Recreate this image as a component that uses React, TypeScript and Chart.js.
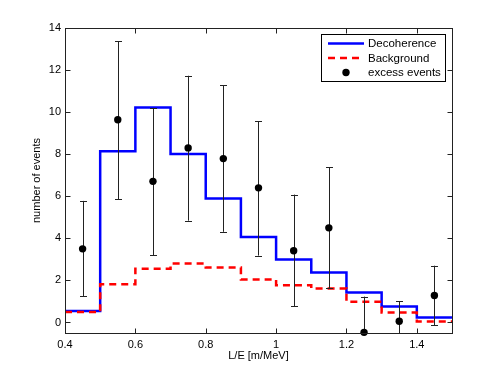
import { useEffect, useRef } from 'react';
import { Chart, registerables } from 'chart.js';

Chart.register(...registerables);

// ---- data ----
const binEdges = [0.4, 0.5, 0.6, 0.7, 0.8, 0.9, 1.0, 1.1, 1.2, 1.3, 1.4, 1.5];
const decoherence = [0.55, 8.14, 10.22, 8.01, 5.89, 4.06, 3.0, 2.38, 1.42, 0.76, 0.24];
const background = [0.5, 1.82, 2.56, 2.8, 2.61, 2.04, 1.77, 1.61, 0.98, 0.47, 0.05];
const binCenters = [0.45, 0.55, 0.65, 0.75, 0.85, 0.95, 1.05, 1.15, 1.25, 1.35, 1.45];
const excess = [3.5, 9.64, 6.71, 8.3, 7.79, 6.4, 3.41, 4.5, -0.47, 0.06, 1.28];
const errLow = [1.26, 5.85, 3.2, 4.84, 4.31, 3.18, 0.76, 1.64, -2.17, -0.9, -0.13];
const errHigh = [5.78, 13.38, 10.19, 11.73, 11.27, 9.56, 6.08, 7.38, 1.23, 1.02, 2.7];
const xTicks = [0.4, 0.6, 0.8, 1.0, 1.2, 1.4];
const yTicks = [0, 2, 4, 6, 8, 10, 12, 14];
const legendLabels = ['Decoherence', 'Background', 'excess events'];

const FONT = '"Liberation Sans", Arial, Helvetica, sans-serif';

function stepData(values: number[]) {
  const pts = values.map((v, i) => ({ x: binEdges[i], y: v }));
  pts.push({ x: binEdges[binEdges.length - 1], y: values[values.length - 1] });
  return pts;
}

const framePlugin = {
  id: 'frame',
  beforeDatasetDraw(chart: any, args: any) {
    if (args.index !== 0) return;
    const { ctx, chartArea: a } = chart;
    const xs = chart.scales.x;
    const ys = chart.scales.y;
    ctx.save();
    ctx.beginPath();
    ctx.rect(a.left, a.top, a.right - a.left, a.bottom - a.top);
    ctx.clip();
    ctx.strokeStyle = '#222';
    ctx.lineWidth = 1;
    const cap = 3.5;
    binCenters.forEach((c, i) => {
      const px = Math.round(xs.getPixelForValue(c)) + 0.5;
      const lo = ys.getPixelForValue(errLow[i]);
      const hi = ys.getPixelForValue(errHigh[i]);
      ctx.beginPath();
      ctx.moveTo(px, lo);
      ctx.lineTo(px, hi);
      ctx.moveTo(px - cap, Math.round(lo) + 0.5);
      ctx.lineTo(px + cap, Math.round(lo) + 0.5);
      ctx.moveTo(px - cap, Math.round(hi) + 0.5);
      ctx.lineTo(px + cap, Math.round(hi) + 0.5);
      ctx.stroke();
    });
    ctx.restore();
  },
  afterDraw(chart: any) {
    const { ctx, chartArea: a } = chart;
    const xs = chart.scales.x;
    const ys = chart.scales.y;
    const L = Math.round(a.left) + 0.5;
    const R = Math.round(a.right) + 0.5;
    const T = Math.round(a.top) + 0.5;
    const B = Math.round(a.bottom) + 0.5;
    ctx.save();
    ctx.strokeStyle = '#222';
    ctx.lineWidth = 1;
    ctx.strokeRect(L, T, R - L, B - T);
    const tl = 5;
    ctx.beginPath();
    xTicks.forEach((t) => {
      const px = Math.round(xs.getPixelForValue(t)) + 0.5;
      ctx.moveTo(px, B);
      ctx.lineTo(px, B - tl);
      ctx.moveTo(px, T);
      ctx.lineTo(px, T + tl);
    });
    yTicks.forEach((t) => {
      const py = Math.round(ys.getPixelForValue(t)) + 0.5;
      ctx.moveTo(L, py);
      ctx.lineTo(L + tl, py);
      ctx.moveTo(R, py);
      ctx.lineTo(R - tl, py);
    });
    ctx.stroke();

    // axis titles
    ctx.fillStyle = '#000';
    ctx.font = `11px ${FONT}`;
    ctx.textAlign = 'center';
    ctx.textBaseline = 'middle';
    ctx.fillText('L/E [m/MeV]', (a.left + a.right) / 2, 356);
    ctx.save();
    ctx.translate(37, (a.top + a.bottom) / 2);
    ctx.rotate(-Math.PI / 2);
    ctx.fillText('number of events', 0, 0);
    ctx.restore();

    // legend
    const bx = 321.5, by = 34.5, bw = 124, bh = 47;
    ctx.fillStyle = '#fff';
    ctx.fillRect(bx, by, bw, bh);
    ctx.strokeStyle = '#000';
    ctx.lineWidth = 1;
    ctx.strokeRect(bx, by, bw, bh);
    const rows = [43.5, 58, 72.5];
    const x0 = 328, x1 = 364;
    // decoherence
    ctx.strokeStyle = '#0000ff';
    ctx.lineWidth = 2.5;
    ctx.setLineDash([]);
    ctx.beginPath();
    ctx.moveTo(x0, rows[0]);
    ctx.lineTo(x1, rows[0]);
    ctx.stroke();
    // background
    ctx.strokeStyle = '#ff0000';
    ctx.setLineDash([7, 5]);
    ctx.beginPath();
    ctx.moveTo(x0, rows[1]);
    ctx.lineTo(x1, rows[1]);
    ctx.stroke();
    ctx.setLineDash([]);
    // marker
    ctx.fillStyle = '#000';
    ctx.beginPath();
    ctx.arc((x0 + x1) / 2, rows[2], 3.7, 0, Math.PI * 2);
    ctx.fill();
    ctx.font = `11.5px ${FONT}`;
    ctx.textAlign = 'left';
    ctx.textBaseline = 'middle';
    legendLabels.forEach((t, i) => ctx.fillText(t, 368, rows[i] + 0.5));
    ctx.restore();
  },
};

export default function App() {
  const ref = useRef<HTMLCanvasElement | null>(null);
  useEffect(() => {
    if (!ref.current) return;
    const chart = new Chart(ref.current, {
      type: 'scatter',
      data: {
        datasets: [
          {
            label: legendLabels[2],
            data: binCenters.map((c, i) => ({ x: c, y: excess[i] })),
            showLine: false,
            pointRadius: 3.7,
            pointBackgroundColor: '#000',
            pointBorderColor: '#000',
            pointBorderWidth: 0,
            clip: false,
          } as any,
          {
            label: legendLabels[1],
            data: stepData(background),
            showLine: true,
            stepped: true,
            borderColor: '#ff0000',
            borderWidth: 2.5,
            borderDash: [7, 5],
            pointRadius: 0,
            fill: false,
          },
          {
            label: legendLabels[0],
            data: stepData(decoherence),
            showLine: true,
            stepped: true,
            borderColor: '#0000ff',
            borderWidth: 2.5,
            pointRadius: 0,
            fill: false,
          },
        ],
      },
      options: {
        animation: false,
        responsive: false,
        maintainAspectRatio: false,
        layout: { padding: { left: 0, top: 28, right: 46, bottom: 0 } },
        plugins: { legend: { display: false }, tooltip: { enabled: false } },
        scales: {
          x: {
            type: 'linear',
            min: 0.4,
            max: 1.5,
            grid: { display: false, drawTicks: false },
            border: { display: false },
            afterBuildTicks: (s: any) => {
              s.ticks = xTicks.map((v) => ({ value: v }));
            },
            afterFit: (s: any) => {
              s.height = 42;
            },
            ticks: {
              color: '#000',
              padding: 5,
              font: { family: FONT, size: 11 },
              callback: (v: any) => String(Number(v)),
            },
          },
          y: {
            type: 'linear',
            min: -0.5,
            max: 14,
            grid: { display: false, drawTicks: false },
            border: { display: false },
            afterBuildTicks: (s: any) => {
              s.ticks = yTicks.map((v) => ({ value: v }));
            },
            afterFit: (s: any) => {
              s.width = 65;
            },
            ticks: {
              color: '#000',
              padding: 4,
              font: { family: FONT, size: 11 },
              callback: (v: any) => String(Number(v)),
            },
          },
        },
      },
      plugins: [framePlugin],
    });
    return () => chart.destroy();
  }, []);
  return (
    <div style={{ position: 'absolute', left: 0, top: 0, width: 498, height: 375, background: '#fff' }}>
      <canvas ref={ref} width={498} height={375} style={{ width: 498, height: 375, display: 'block' }} />
    </div>
  );
}
